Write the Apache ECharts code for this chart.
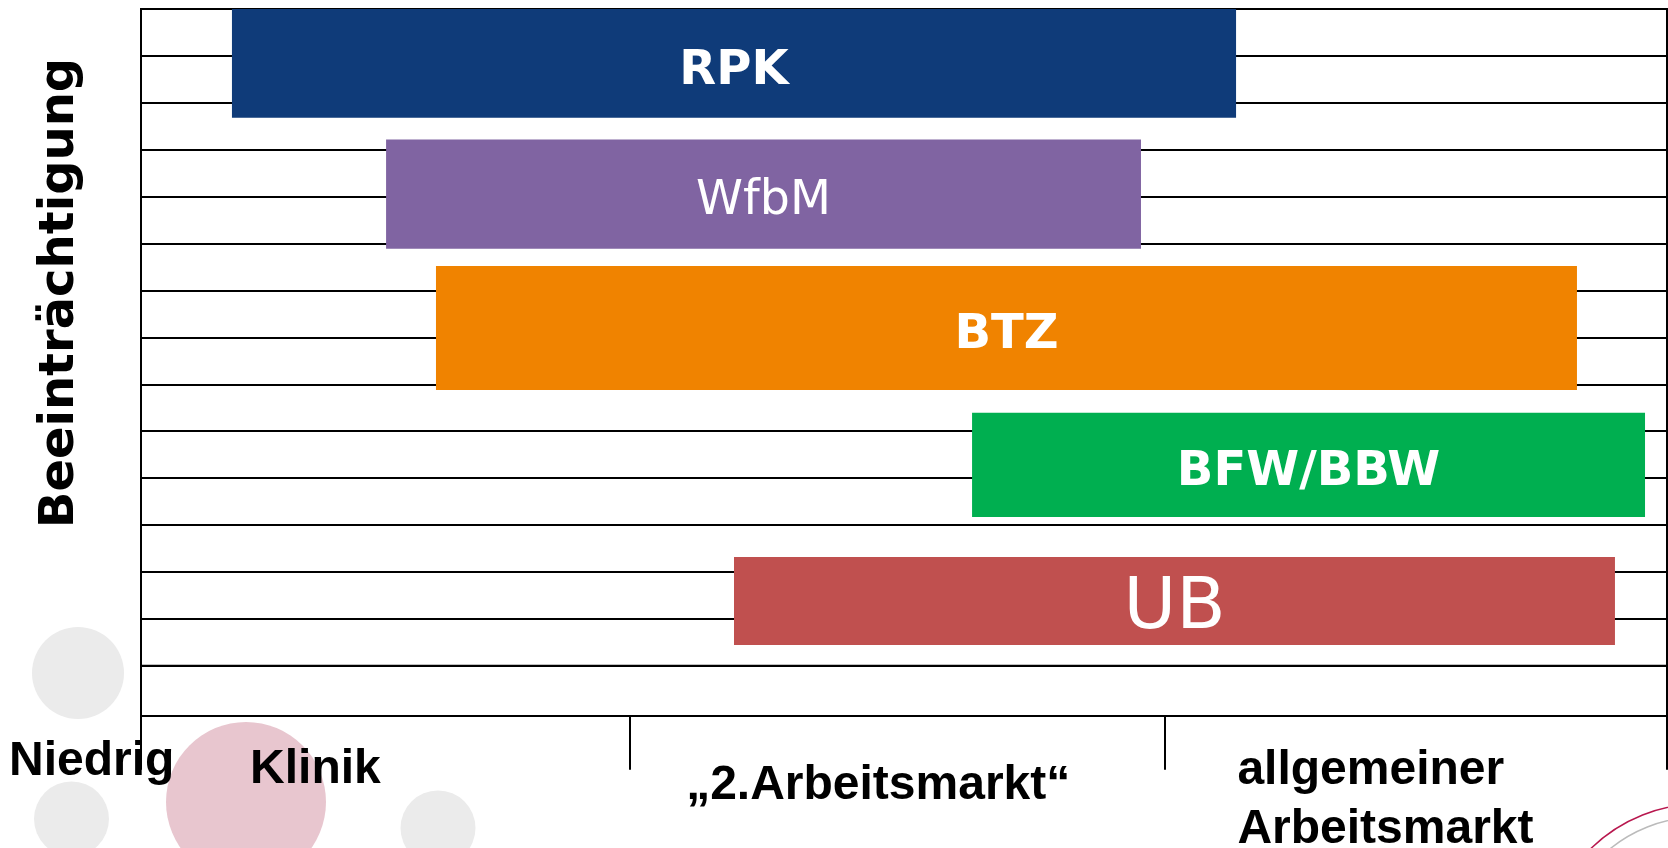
<!DOCTYPE html>
<html>
<head>
<meta charset="utf-8">
<script src="https://cdn.jsdelivr.net/npm/echarts@6/dist/echarts.min.js"></script>
<style>
    html, body { margin: 0; padding: 0; background: #fff; }
    #chart { width: 1668px; height: 848px; }
</style>
</head>
<body>
<div id="chart"></div>
<script>
// bars: start / end on the x scale (0..100), low / high on the impairment scale (0..14)
const programs = ['RPK', 'WfbM', 'BTZ', 'BFW/BBW', 'UB']
const xStart = [5.96, 16.06, 19.33, 54.46, 38.86]
const xEnd = [71.76, 65.53, 94.1, 98.56, 96.59]
const yLow = [11.68, 8.89, 5.88, 3.17, 0.44]
const yHigh = [14, 11.22, 8.52, 5.39, 2.32]

// x axis: section boundaries and section labels
const sectionBounds = [0, 32.05, 67.1, 100]
const sectionLabelPos = [11.43, 48.31, 81.55]
const sectionLabels = ['Klinik', '„2.Arbeitsmarkt“', 'allgemeiner\nArbeitsmarkt']

const barColors = ['#0F3B79', '#8064A2', '#F08300', '#00AF50', '#C0504F']
const labelBold = [true, false, true, true, false]
const labelSize = [48, 47.5, 48, 48, 72]

const chart = echarts.init(document.getElementById('chart'))

const barData = programs.map((p, i) => [xStart[i], xEnd[i], yLow[i], yHigh[i]])

function renderBar(params, api) {
    let i = params.dataIndex
    let topLeft = api.coord([api.value(0), api.value(3)])
    let bottomRight = api.coord([api.value(1), api.value(2)])
    return {
        type: 'rect',
        shape: {
            x: topLeft[0],
            y: topLeft[1],
            width: bottomRight[0] - topLeft[0],
            height: bottomRight[1] - topLeft[1]
        },
        style: { fill: barColors[i] },
        textContent: {
            type: 'text',
            style: {
                text: programs[i],
                fill: '#fff',
                fontFamily: 'DejaVu Sans',
                fontWeight: labelBold[i] ? 'bold' : 'normal',
                fontSize: labelSize[i]
            }
        },
        textConfig: { position: 'inside', offset: [0, 8] }
    }
}

const blackLine = { color: '#000', width: 2 }
const labelFont = { fontFamily: 'Liberation Sans', fontWeight: 'bold', fontSize: 48, color: '#000' }

const option = {
    backgroundColor: '#fff',
    animation: false,
    grid: {
        left: 141,
        right: 1,
        top: 9,
        bottom: 182.3,
        outerBoundsMode: 'none',
        containLabel: false,
        show: true,
        borderColor: '#000',
        borderWidth: 2
    },
    xAxis: [{
        type: 'value',
        min: 0,
        max: 100,
        position: 'bottom',
        offset: 50,
        axisLine: { show: true, onZero: false, lineStyle: blackLine },
        axisTick: {
            show: true,
            customValues: sectionBounds,
            length: 54,
            lineStyle: blackLine
        },
        axisLabel: {
            show: true,
            customValues: sectionLabelPos,
            margin: 26,
            formatter: (v, idx) => {
                let k = sectionLabelPos.findIndex(p => Math.abs(p - v) < 1e-6)
                if (k < 0) k = idx
                if (k === 0) return '{a|' + sectionLabels[0] + '}'
                if (k === 1) return '{b|' + sectionLabels[1] + '}'
                return sectionLabels[2].split('\n').map(s => '{c|' + s + '}').join('\n')
            },
            ...labelFont,
            rich: {
                a: { ...labelFont, lineHeight: 56 },
                b: { ...labelFont, lineHeight: 88 },
                c: { ...labelFont, lineHeight: 59, align: 'left' }
            }
        },
        splitLine: { show: false }
    }, {
        // only continues the outer frame lines between grid bottom and axis
        type: 'value',
        min: 0,
        max: 100,
        position: 'bottom',
        offset: 0,
        axisLine: { show: false, onZero: false },
        axisTick: {
            show: true,
            customValues: [0, 100],
            length: 50,
            lineStyle: blackLine
        },
        axisLabel: { show: false },
        splitLine: { show: false }
    }],
    yAxis: {
        type: 'value',
        min: 0,
        max: 14,
        interval: 1,
        axisLine: { show: true, lineStyle: blackLine },
        axisTick: { show: false },
        axisLabel: { show: false },
        splitLine: { show: true, lineStyle: blackLine }
    },
    graphic: [
        { type: 'circle', z: -1, shape: { cx: 78, cy: 673, r: 46 }, style: { fill: '#EBEBEB' } },
        { type: 'circle', z: -1, shape: { cx: 71.5, cy: 819, r: 37.5 }, style: { fill: '#EBEBEB' } },
        { type: 'circle', z: -1, shape: { cx: 246, cy: 802, r: 80 }, style: { fill: '#E8C6CF' } },
        { type: 'circle', z: -1, shape: { cx: 438, cy: 828, r: 37.5 }, style: { fill: '#EBEBEB' } },
        { type: 'circle', z: -1, shape: { cx: 1700, cy: 960, r: 156 }, style: { fill: 'none', stroke: '#B8174E', lineWidth: 1.5 } },
        { type: 'circle', z: -1, shape: { cx: 1700, cy: 960, r: 143 }, style: { fill: 'none', stroke: '#BBBBBB', lineWidth: 1.5 } },
        {
            type: 'text',
            z: 10,
            x: 9,
            y: 762,
            style: {
                text: 'Niedrig',
                fill: '#000',
                fontFamily: 'Liberation Sans',
                fontWeight: 'bold',
                fontSize: 48,
                align: 'left',
                verticalAlign: 'middle'
            }
        },
        {
            type: 'text',
            z: 10,
            x: 61,
            y: 293,
            rotation: Math.PI / 2,
            style: {
                text: 'Beeinträchtigung',
                fill: '#000',
                fontFamily: 'DejaVu Sans',
                fontWeight: 'bold',
                fontSize: 48,
                align: 'center',
                verticalAlign: 'middle'
            }
        }
    ],
    series: [{
        type: 'custom',
        xAxisIndex: 0,
        yAxisIndex: 0,
        renderItem: renderBar,
        encode: { x: [0, 1], y: [2, 3] },
        data: barData,
        z: 5
    }]
}

chart.setOption(option)
</script>
</body>
</html>
